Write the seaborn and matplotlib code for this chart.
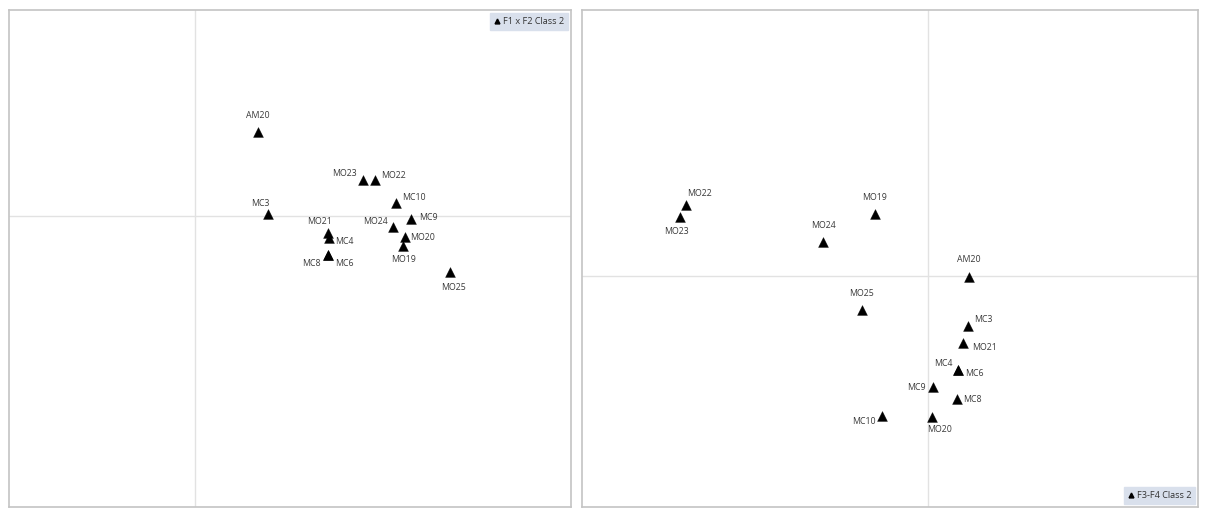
import matplotlib
matplotlib.use("Agg")
import matplotlib.pyplot as plt
import seaborn as sns
import pandas as pd
from matplotlib.lines import Line2D

# ---- data (factor scores, arbitrary units) ----
left_labels = ["AM20", "MC3", "MO23", "MO22", "MC10", "MC9", "MO24", "MO20",
               "MO19", "MO21", "MC4", "MC8", "MC6", "MO25"]
left_f1 = [0.63, 0.73, 1.68, 1.80, 2.01, 2.16, 1.98, 2.10, 2.08, 1.33, 1.34, 1.33, 1.33, 2.55]
left_f2 = [0.84, 0.02, 0.36, 0.36, 0.13, -0.03, -0.11, -0.21, -0.30, -0.17, -0.22, -0.39, -0.39, -0.56]

right_labels = ["MO22", "MO23", "MO19", "MO24", "AM20", "MO25", "MC3", "MO21",
                "MC4", "MC6", "MC9", "MC8", "MC10", "MO20"]
right_f3 = [-2.42, -2.48, -0.53, -1.05, 0.41, -0.66, 0.40, 0.35, 0.30, 0.30, 0.05, 0.29, -0.46, 0.04]
right_f4 = [0.71, 0.59, 0.62, 0.34, -0.01, -0.34, -0.50, -0.67, -0.94, -0.94, -1.11, -1.23, -1.40, -1.41]

left_legend = "F1 x F2 Class 2"
right_legend = "F3-F4 Class 2"

# ---- label placement (pixel offsets, alignment) ----
left_place = {
    "AM20": (0, 17, "center"), "MC3": (-8, 11, "center"), "MO23": (-6, 7, "right"),
    "MO22": (6, 5, "left"), "MC10": (6, 5, "left"), "MC9": (8, 2, "left"),
    "MO24": (-5, 5, "right"), "MO20": (5, 0, "left"), "MO19": (1, -14, "center"),
    "MO21": (-8, 12, "center"), "MC4": (6, -3, "left"), "MC8": (-7, -9, "right"),
    "MC6": (7, -9, "left"), "MO25": (3, -16, "center"),
}
right_place = {
    "MO22": (1, 11, "left"), "MO23": (-4, -14, "center"), "MO19": (0, 16, "center"),
    "MO24": (0, 16, "center"), "AM20": (0, 18, "center"), "MO25": (0, 16, "center"),
    "MC3": (6, 6, "left"), "MO21": (9, -4, "left"), "MC4": (-5, 6, "right"),
    "MC6": (7, -3, "left"), "MC9": (-7, 0, "right"), "MC8": (6, 0, "left"),
    "MC10": (-6, -5, "right"), "MO20": (8, -13, "center"),
}

sns.set_theme(style="white")
plt.rcParams["font.family"] = ["Open Sans", "DejaVu Sans"]

W, H = 1208, 516
fig = plt.figure(figsize=(W / 100, H / 100), dpi=100)
ax1 = fig.add_axes([9 / W, 9 / H, 562 / W, 497 / H])
ax2 = fig.add_axes([582 / W, 9 / H, 616 / W, 497 / H])

def panel(ax, labels, xs, ys, place, xlim, ylim, legend_text, legend_loc):
    df = pd.DataFrame({"x": xs, "y": ys, "label": labels})
    ax.axvline(0, color="#e2e2e2", lw=1, zorder=0)
    ax.axhline(0, color="#e2e2e2", lw=1, zorder=0)
    sns.scatterplot(data=df, x="x", y="y", marker="^", color="black", s=50,
                    edgecolor="black", linewidth=0.3, ax=ax, legend=False, zorder=3)
    for lab, x, y in zip(labels, xs, ys):
        dx, dy, ha = place[lab]
        ax.annotate(lab, (x, y), xytext=(dx, dy), textcoords="offset pixels",
                    ha=ha, va="center", fontsize=6.3, color="#3a3a3a")
    ax.set_xlim(*xlim)
    ax.set_ylim(*ylim)
    ax.set_xticks([])
    ax.set_yticks([])
    ax.set_xlabel("")
    ax.set_ylabel("")
    for sp in ax.spines.values():
        sp.set_visible(True)
        sp.set_color("#c4c4c4")
        sp.set_linewidth(1.2)
    handle = Line2D([], [], marker="^", color="black", linestyle="none", markersize=3.5)
    leg = ax.legend([handle], [legend_text], loc=legend_loc, fontsize=6.6,
                    frameon=True, fancybox=False, handlelength=0.6, handletextpad=0.35,
                    borderpad=0.45, borderaxespad=0.3)
    fr = leg.get_frame()
    fr.set_facecolor("#d9e0ec")
    fr.set_edgecolor("#d9e0ec")
    fr.set_alpha(1)
    for t in leg.get_texts():
        t.set_color("#333333")

panel(ax1, left_labels, left_f1, left_f2, left_place,
      (-1.86, 3.76), (-2.91, 2.06), left_legend, "upper right")
panel(ax2, right_labels, right_f3, right_f4, right_place,
      (-3.46, 2.70), (-2.31, 2.66), right_legend, "lower right")

fig.savefig("out.png", dpi=100, facecolor="white")
